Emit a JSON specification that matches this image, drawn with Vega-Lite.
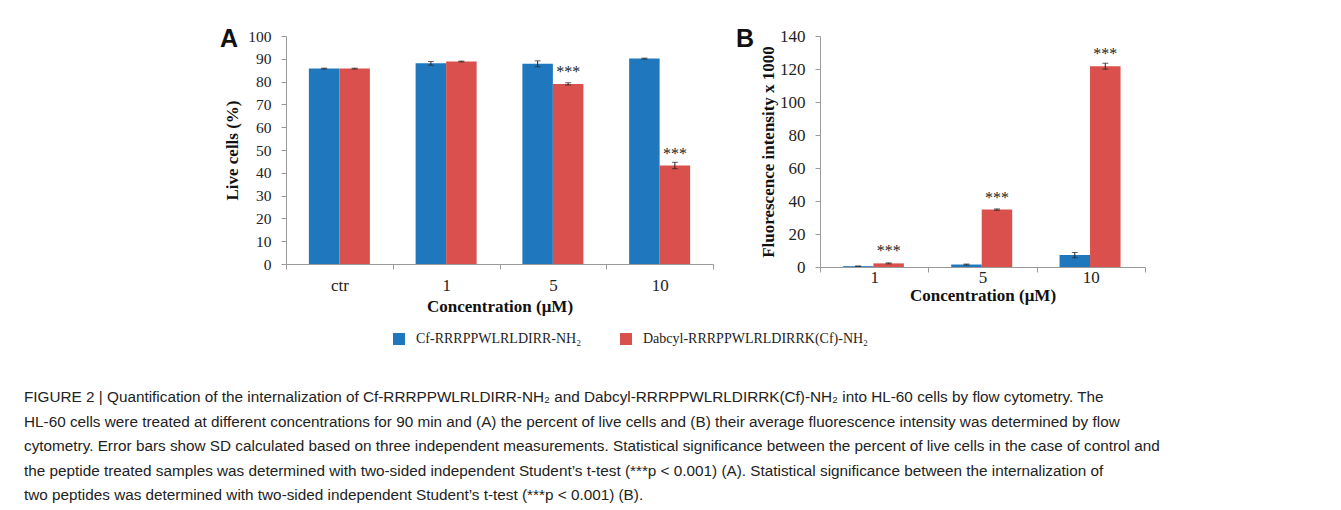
{
  "$schema": "https://vega.github.io/schema/vega-lite/v6.json",
  "autosize": {"type": "none"},
  "padding": {"left": 286, "top": 36, "right": 1055, "bottom": 474},
  "background": "white",
  "bounds": "flush",
  "spacing": 107,
  "config": {
    "view": {"stroke": null},
    "axis": {
      "labelFont": "Liberation Serif",
      "titleFont": "Liberation Serif",
      "labelColor": "#222",
      "titleColor": "#111",
      "domainColor": "#9a9a9a",
      "tickColor": "#9a9a9a",
      "grid": false,
      "titleFontWeight": "bold"
    }
  },
  "datasets": {
    "live": [
      {"conc": "ctr", "peptide": "Cf-RRRPPWLRLDIRR-NH₂", "value": 85.7, "sd": 0.2, "sig": ""},
      {"conc": "ctr", "peptide": "Dabcyl-RRRPPWLRLDIRRK(Cf)-NH₂", "value": 85.7, "sd": 0.2, "sig": ""},
      {"conc": "1", "peptide": "Cf-RRRPPWLRLDIRR-NH₂", "value": 88.0, "sd": 0.8, "sig": ""},
      {"conc": "1", "peptide": "Dabcyl-RRRPPWLRLDIRRK(Cf)-NH₂", "value": 88.8, "sd": 0.2, "sig": ""},
      {"conc": "5", "peptide": "Cf-RRRPPWLRLDIRR-NH₂", "value": 87.8, "sd": 1.3, "sig": ""},
      {"conc": "5", "peptide": "Dabcyl-RRRPPWLRLDIRRK(Cf)-NH₂", "value": 79.0, "sd": 0.5, "sig": "***"},
      {"conc": "10", "peptide": "Cf-RRRPPWLRLDIRR-NH₂", "value": 90.1, "sd": 0.2, "sig": ""},
      {"conc": "10", "peptide": "Dabcyl-RRRPPWLRLDIRRK(Cf)-NH₂", "value": 43.2, "sd": 1.4, "sig": "***"}
    ],
    "fluo": [
      {"conc": "1", "peptide": "Cf-RRRPPWLRLDIRR-NH₂", "value": 0.5, "sd": 0.1, "sig": ""},
      {"conc": "1", "peptide": "Dabcyl-RRRPPWLRLDIRRK(Cf)-NH₂", "value": 2.2, "sd": 0.3, "sig": "***"},
      {"conc": "5", "peptide": "Cf-RRRPPWLRLDIRR-NH₂", "value": 1.5, "sd": 0.3, "sig": ""},
      {"conc": "5", "peptide": "Dabcyl-RRRPPWLRLDIRRK(Cf)-NH₂", "value": 34.8, "sd": 0.4, "sig": "***"},
      {"conc": "10", "peptide": "Cf-RRRPPWLRLDIRR-NH₂", "value": 7.2, "sd": 1.6, "sig": ""},
      {"conc": "10", "peptide": "Dabcyl-RRRPPWLRLDIRRK(Cf)-NH₂", "value": 121.7, "sd": 1.8, "sig": "***"}
    ]
  },
  "title": {
    "text": [
      "FIGURE 2 | Quantification of the internalization of Cf-RRRPPWLRLDIRR-NH₂ and Dabcyl-RRRPPWLRLDIRRK(Cf)-NH₂ into HL-60 cells by flow cytometry. The",
      "HL-60 cells were treated at different concentrations for 90 min and (A) the percent of live cells and (B) their average fluorescence intensity was determined by flow",
      "cytometry. Error bars show SD calculated based on three independent measurements. Statistical significance between the percent of live cells in the case of control and",
      "the peptide treated samples was determined with two-sided independent Student’s t-test (***p < 0.001) (A). Statistical significance between the internalization of",
      "two peptides was determined with two-sided independent Student’s t-test (***p < 0.001) (B)."
    ],
    "orient": "bottom",
    "anchor": "start",
    "frame": "group",
    "dx": -262,
    "offset": 44,
    "font": "Liberation Sans Narrow, Liberation Sans",
    "fontSize": 15.3,
    "fontWeight": "normal",
    "lineHeight": 24.5,
    "color": "#222"
  },
  "resolve": {"legend": {"color": "independent"}},
  "hconcat": [
    {
      "width": 427,
      "height": 228,
      "data": {"name": "live"},
      "title": {"text": "A", "anchor": "start", "frame": "group", "dx": -66, "dy": 27, "font": "Liberation Sans", "fontSize": 25, "fontWeight": "bold", "color": "#111"},
      "encoding": {
        "x": {
          "field": "conc", "type": "nominal", "sort": ["ctr", "1", "5", "10"],
          "title": "Concentration (μM)",
          "scale": {"paddingInner": 0, "paddingOuter": 0},
          "axis": {"labelAngle": 0, "tickBand": "extent", "tickSize": 5, "labelPadding": 8, "labelFontSize": 17, "titleFontSize": 17, "titlePadding": 5}
        },
        "xOffset": {
          "field": "peptide", "type": "nominal",
          "sort": ["Cf-RRRPPWLRLDIRR-NH₂", "Dabcyl-RRRPPWLRLDIRRK(Cf)-NH₂"],
          "scale": {"paddingInner": 0, "paddingOuter": 0.75}
        },
        "y": {
          "field": "value", "type": "quantitative", "title": "Live cells (%)",
          "scale": {"domain": [0, 100]},
          "axis": {"values": [0, 10, 20, 30, 40, 50, 60, 70, 80, 90, 100], "tickSize": 5, "labelPadding": 10, "labelFontSize": 15.5, "titleFontSize": 17, "titlePadding": 6}
        }
      },
      "layer": [
        {
          "mark": {"type": "bar"},
          "encoding": {
            "color": {
              "field": "peptide", "type": "nominal",
              "scale": {"domain": ["Cf-RRRPPWLRLDIRR-NH₂", "Dabcyl-RRRPPWLRLDIRRK(Cf)-NH₂"], "range": ["#1f78be", "#d9504c"]},
              "legend": {
                "orient": "none", "legendX": 106, "legendY": 296, "direction": "horizontal", "title": null,
                "symbolType": "square", "symbolSize": 144, "symbolStrokeWidth": 0, "padding": 0,
                "labelFont": "Liberation Serif", "labelFontSize": 14, "labelColor": "#222", "labelOffset": 10, "labelLimit": 0, "columnPadding": 37
              }
            }
          }
        },
        {
          "mark": {"type": "errorbar", "ticks": {"size": 6, "color": "#222"}, "rule": {"color": "#222", "strokeWidth": 1}},
          "encoding": {"yError": {"field": "sd"}}
        },
        {
          "mark": {"type": "text", "font": "Liberation Serif", "fontSize": 16, "baseline": "alphabetic", "dy": -7, "color": "#222"},
          "encoding": {"text": {"field": "sig"}}
        }
      ]
    },
    {
      "width": 325,
      "height": 231,
      "data": {"name": "fluo"},
      "title": {"text": "B", "anchor": "start", "frame": "group", "dx": -84, "dy": 29, "font": "Liberation Sans", "fontSize": 25, "fontWeight": "bold", "color": "#111"},
      "encoding": {
        "x": {
          "field": "conc", "type": "nominal", "sort": ["1", "5", "10"],
          "title": "Concentration (μM)",
          "scale": {"paddingInner": 0, "paddingOuter": 0},
          "axis": {"labelAngle": 0, "tickBand": "extent", "tickSize": 5, "labelPadding": -3, "labelFontSize": 17, "titleFontSize": 17, "titlePadding": 2}
        },
        "xOffset": {
          "field": "peptide", "type": "nominal",
          "sort": ["Cf-RRRPPWLRLDIRR-NH₂", "Dabcyl-RRRPPWLRLDIRRK(Cf)-NH₂"],
          "scale": {"paddingInner": 0, "paddingOuter": 0.75}
        },
        "y": {
          "field": "value", "type": "quantitative", "title": "Fluorescence intensity x 1000",
          "scale": {"domain": [0, 140]},
          "axis": {"values": [0, 20, 40, 60, 80, 100, 120, 140], "tickSize": 5, "labelPadding": 10, "labelFontSize": 17, "titleFontSize": 17, "titlePadding": 2}
        }
      },
      "layer": [
        {
          "mark": {"type": "bar"},
          "encoding": {
            "color": {
              "field": "peptide", "type": "nominal",
              "scale": {"domain": ["Cf-RRRPPWLRLDIRR-NH₂", "Dabcyl-RRRPPWLRLDIRRK(Cf)-NH₂"], "range": ["#1f78be", "#d9504c"]},
              "legend": null
            }
          }
        },
        {
          "mark": {"type": "errorbar", "ticks": {"size": 6, "color": "#222"}, "rule": {"color": "#222", "strokeWidth": 1}},
          "encoding": {"yError": {"field": "sd"}}
        },
        {
          "mark": {"type": "text", "font": "Liberation Serif", "fontSize": 16, "baseline": "alphabetic", "dy": -7, "color": "#222"},
          "encoding": {"text": {"field": "sig"}}
        }
      ]
    }
  ]
}
